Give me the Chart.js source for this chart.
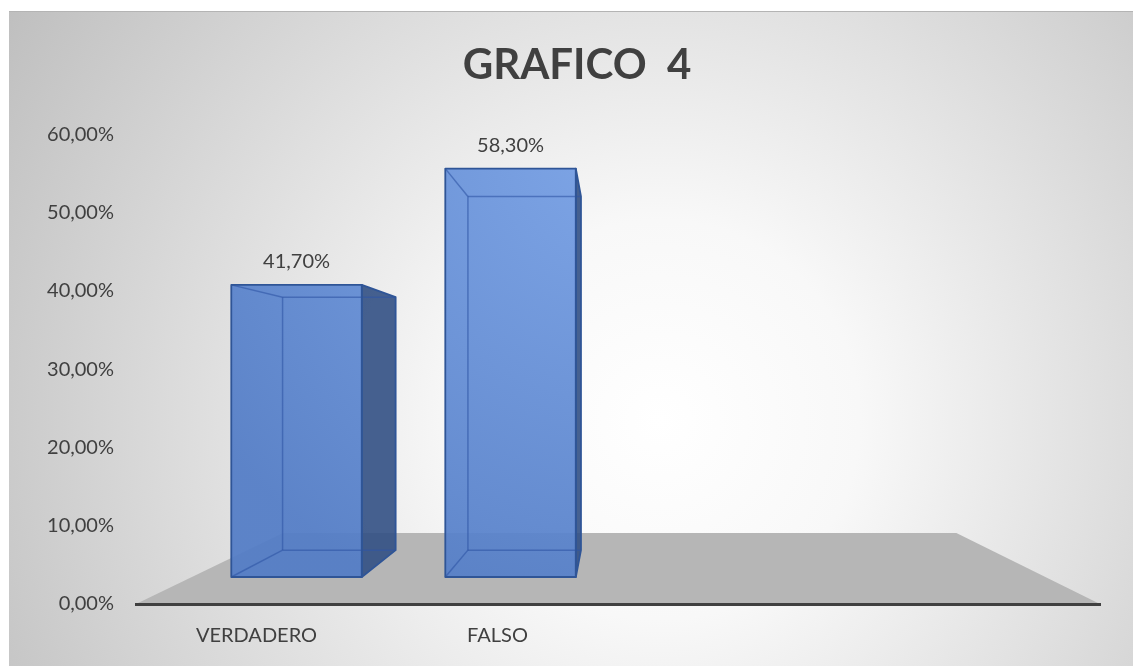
<!DOCTYPE html>
<html><head><meta charset="utf-8">
<script src="https://cdn.jsdelivr.net/npm/chart.js@4"></script>
<style>html,body{margin:0;padding:0;background:#fff;overflow:hidden}#wrap{width:1133px;height:666px}</style>
</head><body><div id="wrap"><canvas id="c" width="1133" height="666"></canvas></div>
<script>
// ---- data ----
const categories = ['VERDADERO', 'FALSO', '', ''];
const values = [0.417, 0.583, null, null];
const yTicks = [0, 0.1, 0.2, 0.3, 0.4, 0.5, 0.6];
const titleText = 'GRAFICO  4';

function fmtPct(v) { return (v * 100).toFixed(2).replace('.', ',') + '%'; }

const FONT = 'Lato';

const bg3d = {
  id: 'bg3d',
  beforeDraw(chart) {
    const ctx = chart.ctx, W = chart.width, H = chart.height, a = chart.chartArea;
    ctx.save();
    ctx.fillStyle = '#ffffff'; ctx.fillRect(0, 0, W, H);
    const g = ctx.createRadialGradient(660, 420, 0, 660, 420, 800);
    g.addColorStop(0, '#ffffff'); g.addColorStop(0.25, '#f8f8f8'); g.addColorStop(1, '#bcbcbc');
    ctx.fillStyle = g; ctx.fillRect(9, 11, W - 9, H - 11);
    ctx.fillStyle = '#b4b4b4'; ctx.fillRect(9, 11, W - 9, 1);
    // floor
    const w = a.right - a.left, h = a.bottom - a.top;
    const backY = a.bottom - 71 / 469.5 * h;
    ctx.beginPath();
    ctx.moveTo(a.left, a.bottom);
    ctx.lineTo(a.left + 0.1525 * w, backY);
    ctx.lineTo(a.left + 0.851 * w, backY);
    ctx.lineTo(a.right, a.bottom);
    ctx.closePath();
    ctx.fillStyle = '#b6b6b6'; ctx.fill();
    ctx.restore();
  },
  afterDatasetsDraw(chart) {
    const ctx = chart.ctx, a = chart.chartArea, h = a.bottom - a.top, w = a.right - a.left;
    const vpx = a.left + 0.496 * w, vpy = a.top + 0.5155 * h;
    const sx = 0.888, sy = 0.895, baseOff = 27 / 469.5 * h, depth = 0.866;
    const fx = x => vpx + (x - vpx) * sx;
    const fy = y => a.bottom - baseOff + (y - a.bottom) * sy;
    const back = p => [vpx + (p[0] - vpx) * depth, vpy + (p[1] - vpy) * depth];
    const poly = (pts) => { ctx.beginPath(); ctx.moveTo(pts[0][0], pts[0][1]); for (let k = 1; k < pts.length; k++) ctx.lineTo(pts[k][0], pts[k][1]); ctx.closePath(); };
    const line = (p, q) => { ctx.beginPath(); ctx.moveTo(p[0], p[1]); ctx.lineTo(q[0], q[1]); ctx.stroke(); };
    const meta = chart.getDatasetMeta(0);
    ctx.save();
    const fill = ctx.createRadialGradient(a.left + 0.502 * w, a.top + 0.01 * h, 0, a.left + 0.502 * w, a.top + 0.01 * h, 500);
    fill.addColorStop(0, 'rgba(118,160,230,0.93)');
    fill.addColorStop(1, 'rgba(82,124,198,0.93)');
    meta.data.forEach((bar, i) => {
      if (values[i] == null) return;
      const p = bar.getProps(['x', 'y', 'base', 'width'], true);
      const L = fx(p.x - p.width / 2), R = fx(p.x + p.width / 2), T = fy(p.y), B = fy(p.base);
      const fTL = [L, T], fTR = [R, T], fBR = [R, B], fBL = [L, B];
      const bTL = back(fTL), bTR = back(fTR), bBR = back(fBR), bBL = back(fBL);
      ctx.lineJoin = 'round';
      if (R < vpx) {
        poly([fTR, bTR, bBR, fBR]);
        ctx.fillStyle = 'rgba(50,80,132,0.9)'; ctx.fill();
      }
      if (L > vpx) {
        poly([fTL, bTL, bBL, fBL]);
        ctx.fillStyle = 'rgba(50,80,132,0.9)'; ctx.fill();
      }
      poly([fTL, fTR, fBR, fBL]);
      ctx.fillStyle = fill; ctx.fill();
      ctx.strokeStyle = 'rgba(47,85,165,0.6)'; ctx.lineWidth = 1.5;
      line(bTL, bBL); line(bBL, bBR); line(bTL, bTR);
      line(fTL, bTL); line(fBL, bBL);
      if (R >= vpx) { line(bTR, bBR); line(fTR, bTR); line(fBR, bBR); }
      ctx.strokeStyle = '#2f5597'; ctx.lineWidth = 1.8;
      poly([fTL, fTR, fBR, fBL]); ctx.stroke();
      if (R < vpx) { poly([fTR, bTR, bBR, fBR]); ctx.stroke(); }
      if (L > vpx) { poly([fTL, bTL, bBL, fBL]); ctx.stroke(); }
      ctx.fillStyle = '#404040';
      ctx.font = '20px ' + FONT;
      ctx.textAlign = 'center'; ctx.textBaseline = 'middle';
      ctx.fillText(fmtPct(values[i]), (L + R) / 2, T - 23);
    });
    ctx.restore();
  }
};

new Chart(document.getElementById('c'), {
  type: 'bar',
  data: {
    labels: categories,
    datasets: [{ data: values, backgroundColor: 'rgba(0,0,0,0)', borderWidth: 0, categoryPercentage: 1, barPercentage: 0.61 }]
  },
  options: {
    responsive: false, animation: false, devicePixelRatio: 1,
    layout: { padding: { left: 21, right: 0, top: 0, bottom: 0 } },
    plugins: {
      legend: { display: false }, tooltip: { enabled: false },
      title: { display: true, text: titleText, color: '#404040', font: { family: FONT, size: 42, weight: 'bold' }, padding: { top: 40, bottom: 44 } }
    },
    scales: {
      x: {
        grid: { display: false, drawTicks: false },
        border: { display: true, color: '#404040', width: 3 },
        ticks: { color: '#404040', font: { family: FONT, size: 20 }, padding: 20, maxRotation: 0, autoSkip: false },
        afterFit(s) { s.height = 62; }
      },
      y: {
        min: 0, max: 0.6,
        grid: { display: false, drawTicks: false },
        border: { display: false },
        ticks: { color: '#404040', font: { family: FONT, size: 20 }, padding: 22, callback: v => fmtPct(v) },
        afterBuildTicks(s) { s.ticks = yTicks.map(v => ({ value: v })); },
        afterFit(s) { s.width = 115; }
      },
      yRight: {
        position: 'right', min: 0, max: 0.6,
        grid: { display: false, drawTicks: false },
        border: { display: false },
        ticks: { display: false },
        afterFit(s) { s.width = 33; }
      }
    }
  },
  plugins: [bg3d]
});
</script>
</body></html>
